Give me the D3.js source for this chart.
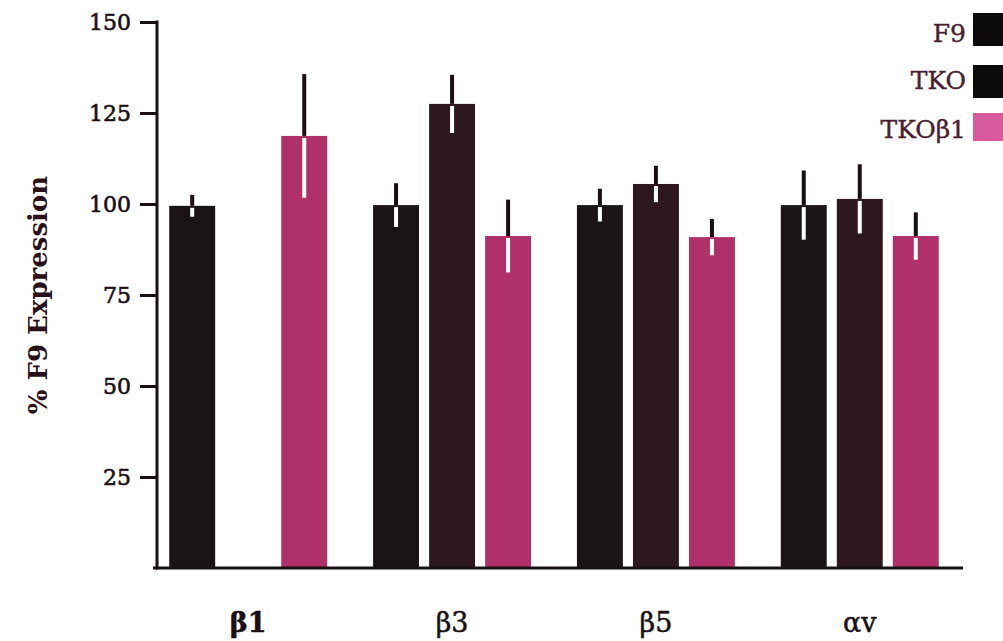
<!DOCTYPE html>
<html>
<head>
<meta charset="utf-8">
<script src="https://cdn.jsdelivr.net/npm/d3@7"></script>
<style>
  body { margin: 0; background: #fff; }
  text { font-family: "DejaVu Serif", "Liberation Serif", serif; }
</style>
</head>
<body>
<div id="chart"></div>
<script>
var svgWidth = 1003;
var svgHeight = 641;

// data
var categories = ["β1", "β3", "β5", "αv"];
var seriesNames = ["F9", "TKO", "TKOβ1"];
var f9Values = [99.5, 99.7, 99.7, 99.7];
var f9Errors = [3, 6, 4.5, 9.5];
var tkoValues = [null, 127.5, 105.5, 101.4];
var tkoErrors = [0, 8, 5, 9.5];
var tkob1Values = [118.7, 91.2, 90.9, 91.2];
var tkob1Errors = [17, 10, 5, 6.5];
var yTicks = [25, 50, 75, 100, 125, 150];

var colors = ["#1a1416", "#2d1820", "#b0306a"];
var legendColors = ["#0c0a0b", "#0c0a0b", "#d65a9c"];

var margin = { top: 22, right: 40, bottom: 73, left: 157 };
var height = svgHeight - margin.top - margin.bottom;

var svg = d3.select("#chart")
  .append("svg")
  .attr("width", svgWidth)
  .attr("height", svgHeight);

var chartGroup = svg.append("g")
  .attr("transform", `translate(${margin.left}, ${margin.top})`);

var valuesBySeries = [f9Values, tkoValues, tkob1Values];
var errorsBySeries = [f9Errors, tkoErrors, tkob1Errors];

var data = [];
categories.forEach(function(c, i) {
  seriesNames.forEach(function(s, j) {
    if (valuesBySeries[j][i] != null) {
      data.push({ cat: c, series: s, idx: j, value: valuesBySeries[j][i], err: errorsBySeries[j][i] });
    }
  });
});

var x0 = d3.scaleBand()
  .domain(categories)
  .range([0, 794])
  .paddingInner(0.225)
  .paddingOuter(0.06);

var x1 = d3.scaleBand()
  .domain(seriesNames)
  .range([0, x0.bandwidth()])
  .paddingInner(0.18);

var y = d3.scaleLinear()
  .domain([0, 150])
  .range([height, 0]);

// bars
chartGroup.selectAll("rect.bar")
  .data(data)
  .enter()
  .append("rect")
  .attr("class", "bar")
  .attr("x", d => x0(d.cat) + x1(d.series))
  .attr("y", d => y(d.value))
  .attr("width", x1.bandwidth())
  .attr("height", d => height - y(d.value))
  .attr("fill", d => colors[d.idx]);

// error bars: black part above, white part inside the bar
chartGroup.selectAll("line.errUp")
  .data(data)
  .enter()
  .append("line")
  .attr("x1", d => x0(d.cat) + x1(d.series) + x1.bandwidth() / 2)
  .attr("x2", d => x0(d.cat) + x1(d.series) + x1.bandwidth() / 2)
  .attr("y1", d => y(d.value))
  .attr("y2", d => y(d.value + d.err))
  .attr("stroke", "#1a1014")
  .attr("stroke-width", 4);

chartGroup.selectAll("line.errDown")
  .data(data)
  .enter()
  .append("line")
  .attr("x1", d => x0(d.cat) + x1(d.series) + x1.bandwidth() / 2)
  .attr("x2", d => x0(d.cat) + x1(d.series) + x1.bandwidth() / 2)
  .attr("y1", d => y(d.value) + 2)
  .attr("y2", d => y(d.value - d.err))
  .attr("stroke", "#ffffff")
  .attr("stroke-width", 4);

// y axis
var leftAxis = d3.axisLeft(y)
  .tickValues(yTicks)
  .tickSize(17)
  .tickPadding(9);

var yAxisG = chartGroup.append("g")
  .call(leftAxis);
yAxisG.select(".domain").remove();
yAxisG.selectAll(".tick line")
  .attr("stroke", "#1a1014")
  .attr("stroke-width", 3);
yAxisG.selectAll(".tick text")
  .attr("font-size", "22px")
  .attr("fill", "#1a1014")
  .attr("stroke", "#1a1014")
  .attr("stroke-width", 0.6)
  .style("font-family", "'DejaVu Serif', serif");

chartGroup.append("line")
  .attr("x1", 0).attr("x2", 0)
  .attr("y1", y(150) - 1.5).attr("y2", height + 1.5)
  .attr("stroke", "#1a1014")
  .attr("stroke-width", 3);

// baseline
chartGroup.append("line")
  .attr("x1", -4).attr("x2", 806)
  .attr("y1", height).attr("y2", height)
  .attr("stroke", "#1a1014")
  .attr("stroke-width", 3);

// x labels
chartGroup.selectAll("text.cat")
  .data(categories)
  .enter()
  .append("text")
  .attr("class", "cat")
  .attr("x", d => x0(d) + x0.bandwidth() / 2)
  .attr("y", height + 64)
  .attr("text-anchor", "middle")
  .attr("font-size", "27px")
  .attr("font-weight", (d, i) => i === 0 ? "bold" : "normal")
  .attr("fill", "#1a1014")
  .attr("stroke", "#1a1014")
  .attr("stroke-width", 0.5)
  .text(d => d);

// y label
svg.append("text")
  .attr("transform", `translate(47, ${margin.top + height / 2}) rotate(-90)`)
  .attr("text-anchor", "middle")
  .attr("font-size", "26px")
  .attr("font-weight", "bold")
  .attr("fill", "#2a1018")
  .text("% F9 Expression");

// legend
var legend = svg.append("g");
var legendRows = [13, 65, 113];
var legendBaselines = [42, 89, 138];
seriesNames.forEach(function(s, i) {
  legend.append("rect")
    .attr("x", 973)
    .attr("y", legendRows[i])
    .attr("width", 32)
    .attr("height", i === 2 ? 28 : 33)
    .attr("fill", legendColors[i]);
  legend.append("text")
    .attr("x", 966)
    .attr("y", legendBaselines[i])
    .attr("text-anchor", "end")
    .attr("font-size", "25px")
    .attr("fill", "#4a2030")
    .attr("stroke", "#4a2030")
    .attr("stroke-width", 0.4)
    .text(s);
});
</script>
</body>
</html>
